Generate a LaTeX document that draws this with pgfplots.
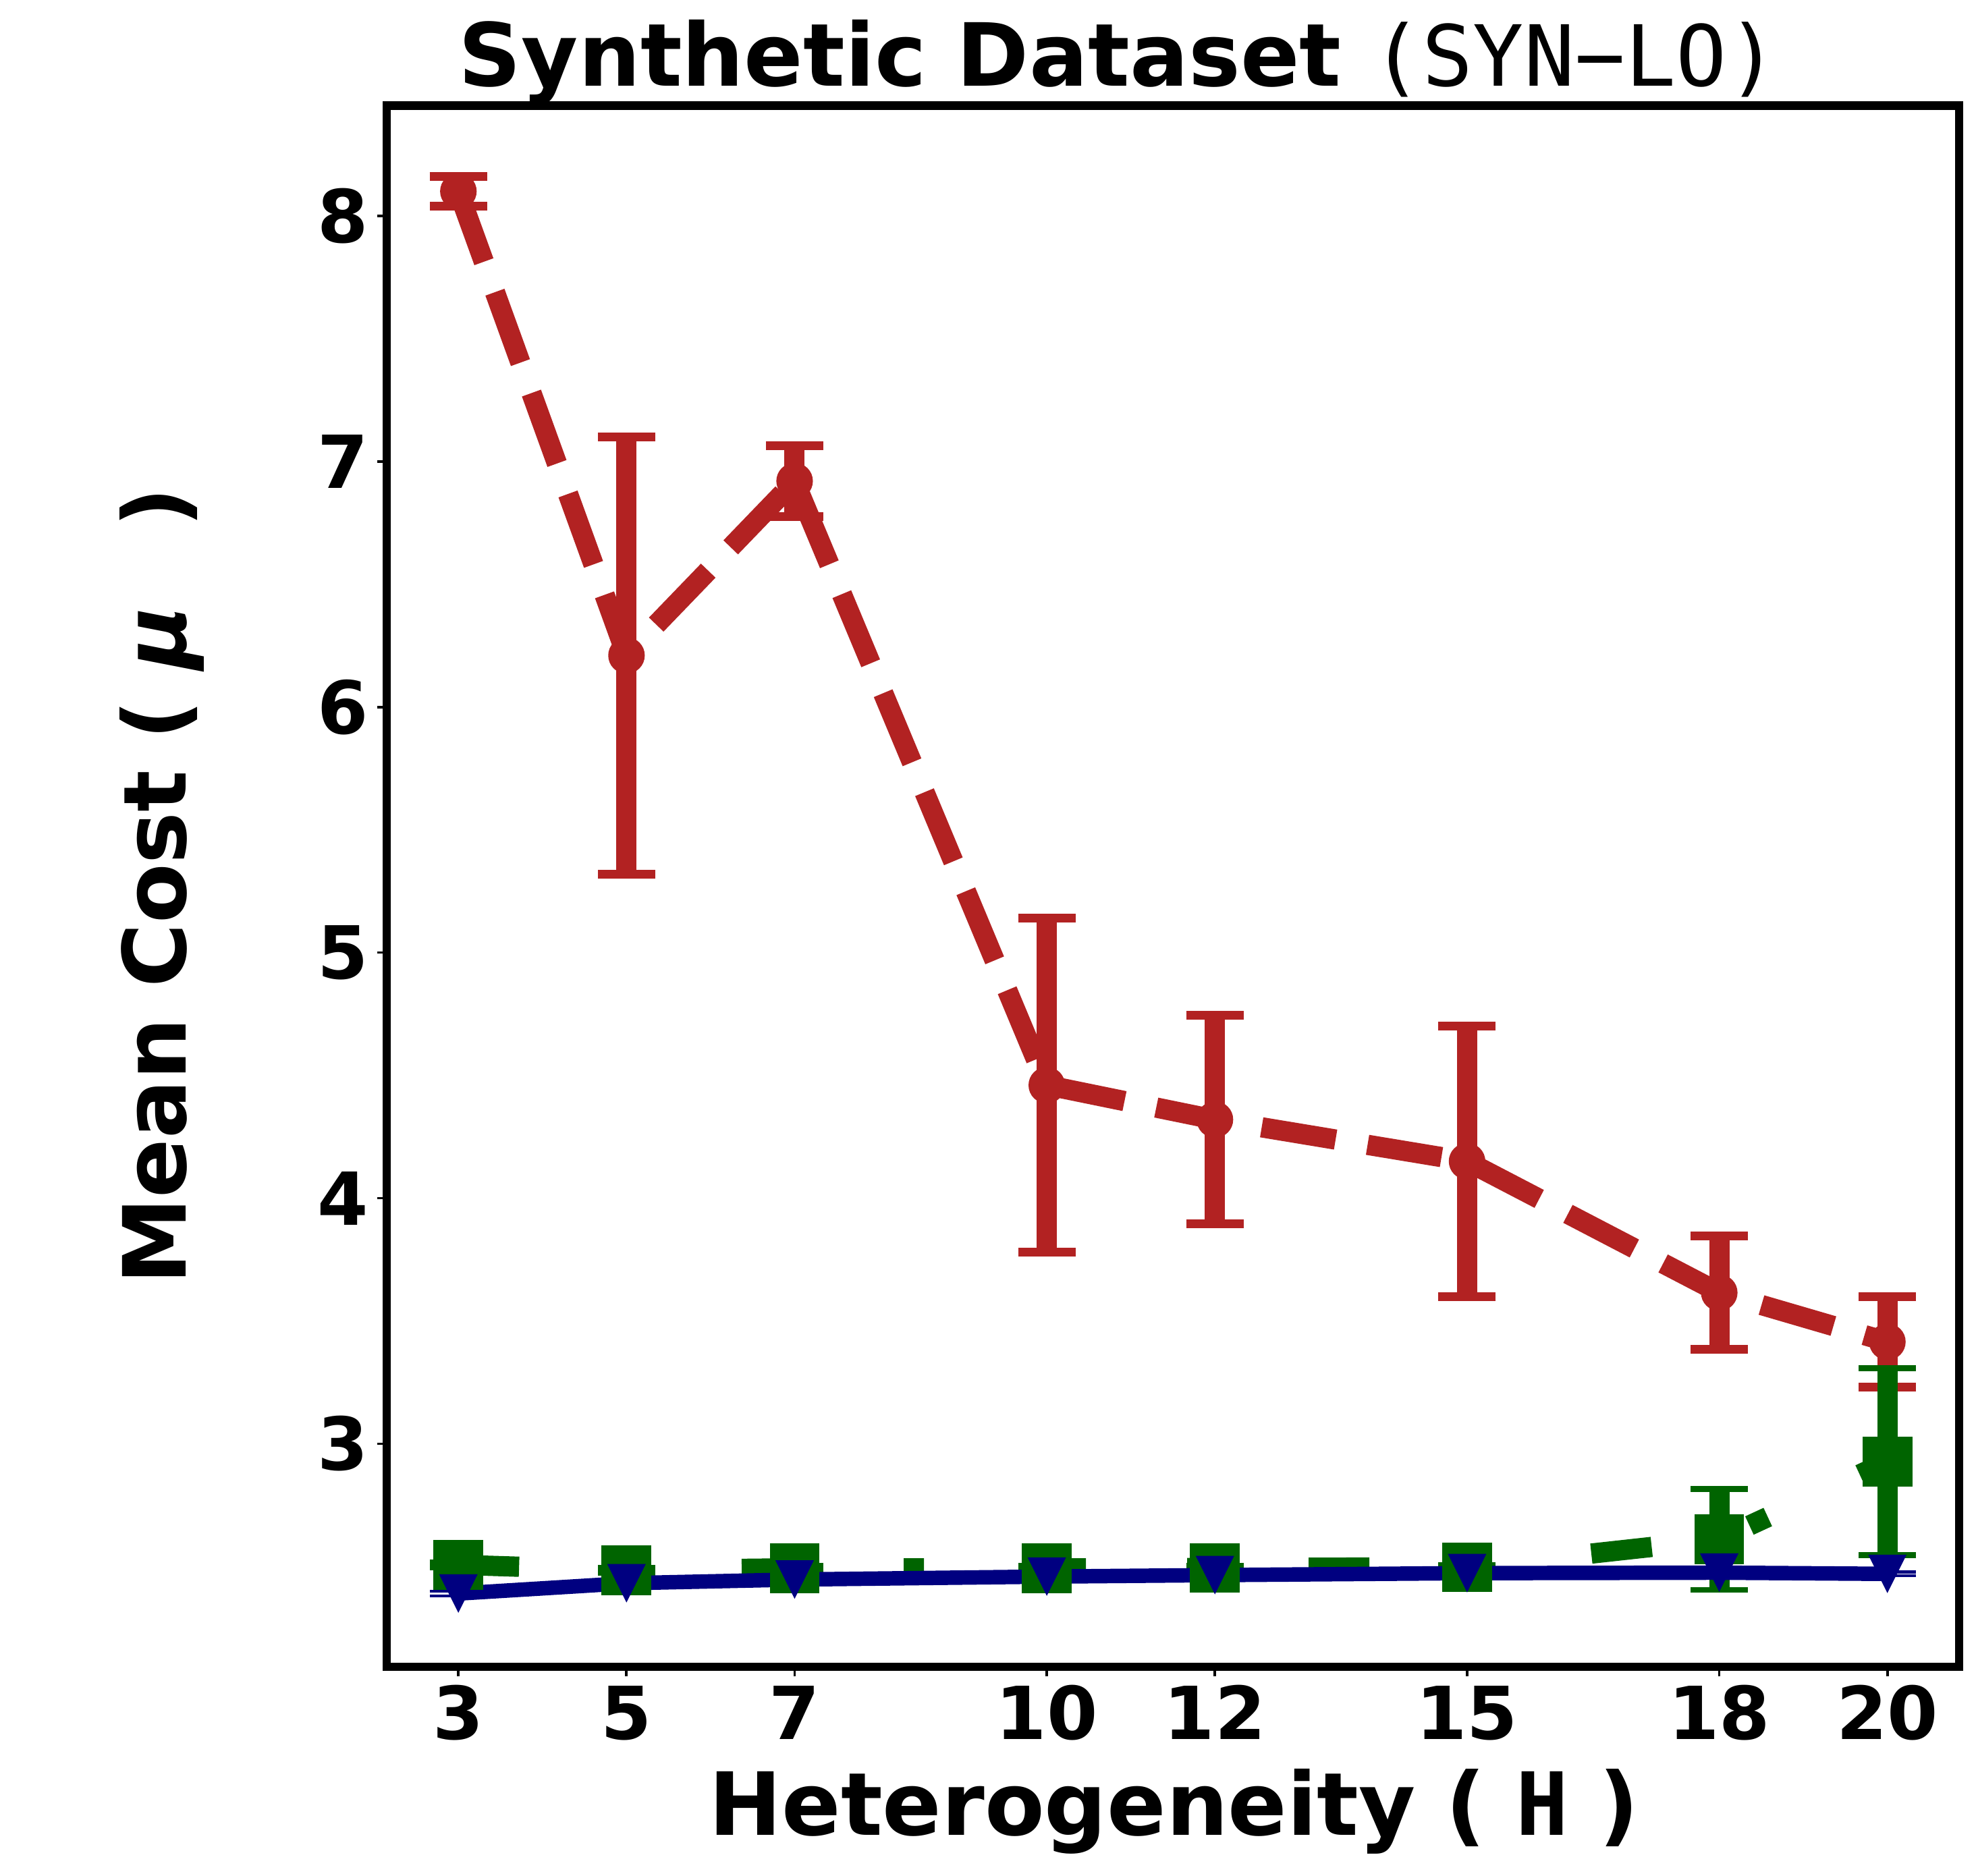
\documentclass[border=0pt]{standalone}
\usepackage{fontspec}
\setmainfont{DejaVu Sans}
\newfontfamily\monofont{DejaVu Sans Mono}
\usepackage{pgfplots}
\pgfplotsset{compat=1.18}
\usepackage{pgfplotstable}
\definecolor{firebrick}{RGB}{178,34,34}
\definecolor{dkgreen}{RGB}{0,100,0}
\definecolor{navyblue}{RGB}{0,0,128}
\pgfdeclareplotmark{mplv}{%
  \pgfpathmoveto{\pgfqpoint{0pt}{-\pgfplotmarksize}}%
  \pgfpathlineto{\pgfqpoint{-\pgfplotmarksize}{\pgfplotmarksize}}%
  \pgfpathlineto{\pgfqpoint{\pgfplotmarksize}{\pgfplotmarksize}}%
  \pgfpathclose\pgfusepathqfill}

\pgfplotstableread{
x y e
3 8.100 0.060
5 6.210 0.890
7 6.920 0.145
10 4.460 0.680
12 4.320 0.425
15 4.150 0.550
18 3.615 0.230
20 3.415 0.185
}\redtab
\pgfplotstableread{
x y e
3 2.507 0.010
5 2.485 0.010
7 2.493 0.010
10 2.492 0.010
12 2.494 0.010
15 2.497 0.010
18 2.610 0.205
20 2.927 0.380
}\greentab
\pgfplotstableread{
x y e
3 2.390 0.009
5 2.432 0.008
7 2.447 0.008
10 2.459 0.008
12 2.465 0.008
15 2.473 0.008
18 2.475 0.008
20 2.470 0.008
}\bluetab

\begin{document}
\begin{tikzpicture}
\useasboundingbox (0,0) rectangle (702.72pt,666.96pt);
\begin{axis}[
  at={(137.6pt,74.2pt)}, anchor=south west,
  scale only axis, width=559.0pt, height=555.2pt,
  xmin=2.15, xmax=20.85, ymin=2.092, ymax=8.449,
  xtick={3,5,7,10,12,15,18,20}, ytick={3,4,5,6,7,8},
  minor tick num=0,
  tick align=outside, xtick pos=left, ytick pos=left,
  major tick length=3.5pt,
  every tick/.style={line width=0.9pt, black},
  axis line style={line width=2.9pt, line join=miter},
  tick label style={font=\fontsize{26}{31}\selectfont\bfseries, inner sep=0pt},
  /pgf/number format/assume math mode=true,
  xticklabel style={anchor=base, yshift=-22.45pt},
  yticklabel style={anchor=east, xshift=-2.8pt},
  title={Synthetic Dataset {\mdseries\monofont\fontsize{30}{36}\selectfont(SYN−LO)}},
  title style={font=\fontsize{31}{37}\selectfont\bfseries, at={(axis description cs:0.4653,1.0126)}, anchor=base, inner sep=0pt, yshift=-6pt},
  xlabel={Heterogeneity ( {\monofont H} )},
  xlabel style={font=\fontsize{31}{37}\selectfont\bfseries, at={(axis description cs:0.5007,-0.1081)}, anchor=base, inner sep=0pt},
  ylabel={Mean Cost ( \textit{μ}\hspace{17pt} )},
  ylabel style={font=\fontsize{31}{37}\selectfont\bfseries, at={(axis description cs:-0.1277,0.5)}, anchor=base, inner sep=0pt},
  clip=false,
]
\addplot[color=firebrick, line width=7.2pt, dash pattern=on 26.64pt off 11.52pt, line join=round,
  mark=*, mark size=6pt, mark options={solid, line width=1pt, fill=firebrick},
  error bars/.cd, y dir=both, y explicit, error mark=|,
  error bar style={line width=7.2pt, solid},
  error mark options={line width=3.1pt, mark size=10.2pt, solid}]
  table[x=x, y=y, y error=e]{\redtab};
\addplot[color=dkgreen, line width=7.2pt, dash pattern=on 21.6pt off 36pt on 7.2pt off 36pt, line join=round,
  mark=square*, mark size=8.35pt, mark options={solid, line width=1pt, line join=miter, fill=dkgreen},
  error bars/.cd, y dir=both, y explicit, error mark=|,
  error bar style={line width=7.2pt, solid},
  error mark options={line width=2.05pt, mark size=10.2pt, solid}]
  table[x=x, y=y, y error=e]{\greentab};
\addplot[color=navyblue, line width=5.15pt, solid, line join=round,
  mark=mplv, mark size=6.85pt, mark options={solid, fill=navyblue},
  error bars/.cd, y dir=both, y explicit, error mark=|,
  error bar style={line width=5.15pt, solid},
  error mark options={line width=1.03pt, mark size=10.2pt, solid}]
  table[x=x, y=y, y error=e]{\bluetab};
\end{axis}
\end{tikzpicture}
\end{document}
